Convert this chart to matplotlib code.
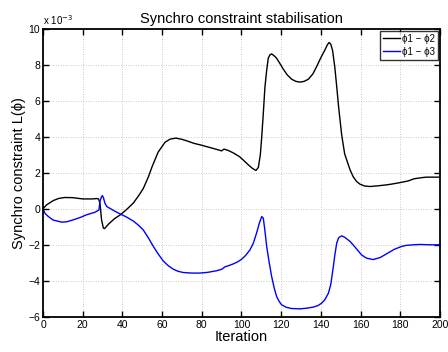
import matplotlib
matplotlib.use("Agg")
import matplotlib.pyplot as plt

plt.rcParams['font.family'] = ['Liberation Sans', 'DejaVu Sans']

# phi1 - phi2 (values in units of 1e-3)
x12 = [0, 1.8, 5.2, 8, 11, 15, 20, 25, 27, 28, 28.7, 29.5, 30.4, 31, 33, 36, 39, 42,
       45.5, 48, 50.5, 53, 55, 58, 61.5, 64, 67, 70, 72.4, 76, 79, 82, 86, 90, 91.2,
       93.4, 96, 99, 101, 103.4, 105.5, 107.3, 108.5, 109.5, 110.2, 111, 111.8, 112.7,
       113.5, 114.3, 115.2, 116.5, 117.7, 119.5, 121.1, 123, 125.3, 127.5, 129.5, 131.5,
       133.7, 136, 137.9, 140, 142.1, 143.2, 144.1, 145, 145.9, 147, 147.9, 149, 150.5,
       152, 154.7, 156.3, 158, 159.7, 162, 164.7, 168, 173, 176, 180, 184, 187, 190,
       193, 196, 200]
y12 = [0, 0.22, 0.46, 0.58, 0.63, 0.62, 0.55, 0.55, 0.57, 0.55, 0.31, -0.61, -1.07,
       -1.1, -0.85, -0.55, -0.33, -0.05, 0.32, 0.7, 1.12, 1.75, 2.35, 3.15, 3.7, 3.87,
       3.93, 3.86, 3.78, 3.64, 3.56, 3.47, 3.35, 3.22, 3.32, 3.24, 3.1, 2.9, 2.7, 2.45,
       2.25, 2.13, 2.3, 3.0, 3.98, 5.3, 6.74, 7.7, 8.37, 8.55, 8.61, 8.5, 8.37, 8.05,
       7.76, 7.45, 7.2, 7.08, 7.04, 7.08, 7.2, 7.5, 7.91, 8.4, 8.84, 9.1, 9.24, 9.15,
       8.8, 7.9, 6.9, 5.6, 4.1, 3.05, 2.17, 1.78, 1.52, 1.37, 1.27, 1.24, 1.27, 1.33,
       1.38, 1.46, 1.55, 1.67, 1.72, 1.76, 1.76, 1.76]

# phi1 - phi3
x13 = [0, 1, 2.7, 5, 9.4, 12, 15.3, 19, 22, 26.2, 28.2, 28.7, 29.3, 29.9, 30.5, 31.2,
       32.1, 33.8, 36, 38.8, 42, 45.5, 48, 50.5, 53, 55.6, 58, 60.6, 63, 65.6, 68, 70.7,
       75, 79, 83, 87.5, 90, 90.8, 91.7, 93, 95.9, 98, 100.1, 102, 104.3, 106, 107.6,
       109, 110.2, 111, 111.8, 112.7, 114, 115.2, 116.5, 117.7, 119, 120.2, 122.5,
       125.3, 129.5, 133, 136.2, 138.5, 140.4, 142, 143.8, 145, 146.3, 147, 148, 149,
       150.5, 152, 154.7, 157, 160.5, 163, 166.4, 170, 173.1, 177, 180.7, 183, 186.6,
       190, 195, 200]
y13 = [0, -0.25, -0.43, -0.62, -0.74, -0.72, -0.61, -0.47, -0.33, -0.19, -0.06, 0.41,
       0.62, 0.74, 0.6, 0.31, 0.13, 0.02, -0.12, -0.28, -0.45, -0.68, -0.9, -1.17, -1.6,
       -2.09, -2.5, -2.9, -3.15, -3.35, -3.47, -3.54, -3.57, -3.57, -3.53, -3.44, -3.36,
       -3.3, -3.22, -3.18, -3.06, -2.95, -2.8, -2.6, -2.28, -1.9, -1.35, -0.8, -0.43,
       -0.52, -1.2, -2.09, -3.0, -3.76, -4.4, -4.87, -5.15, -5.33, -5.47, -5.54, -5.56,
       -5.52, -5.46, -5.38, -5.24, -5.05, -4.69, -4.2, -3.2, -2.6, -1.9, -1.6, -1.5,
       -1.58, -1.81, -2.1, -2.56, -2.74, -2.82, -2.7, -2.5, -2.25, -2.09, -2.03, -2.0,
       -1.98, -2.0, -2.0]

xticks = list(range(0, 201, 20))
yticks = list(range(-6, 11, 2))

fig = plt.figure(figsize=(4.48, 3.52), dpi=100)
ax = fig.add_axes([0.096, 0.1, 0.886, 0.818])

ax.plot(x12, y12, color="black", lw=1.0, label="\u03d51 \u2212 \u03d52")
ax.plot(x13, y13, color="blue", lw=1.0, label="\u03d51 \u2212 \u03d53")

ax.set_xlim(0, 200)
ax.set_ylim(-6, 10)
ax.set_xticks(xticks)
ax.set_yticks(yticks)
ax.tick_params(direction="in", top=True, right=True, length=4, width=1,
               labelsize=7.5, pad=2)
ax.grid(True, linestyle=(0, (1, 2)), color="#b8b8b8", lw=0.6)
for s in ax.spines.values():
    s.set_linewidth(1.3)

ax.set_title("Synchro constraint stabilisation", fontsize=10.5, pad=4)
ax.set_xlabel("Iteration", fontsize=10.5, labelpad=0)
ax.set_ylabel("Synchro constraint L(\u03d5)", fontsize=10.5, labelpad=2)
ax.text(0.0, 1.005, "x 10$^{-3}$", transform=ax.transAxes, fontsize=7,
        ha="left", va="bottom")

leg = ax.legend(loc="upper right", fontsize=7, frameon=True, fancybox=False,
                handlelength=1.8, handletextpad=0.2, borderpad=0.3,
                labelspacing=0.3, borderaxespad=0.2)
leg.get_frame().set_edgecolor("black")
leg.get_frame().set_linewidth(1.0)

fig.savefig("out.png", dpi=100)
